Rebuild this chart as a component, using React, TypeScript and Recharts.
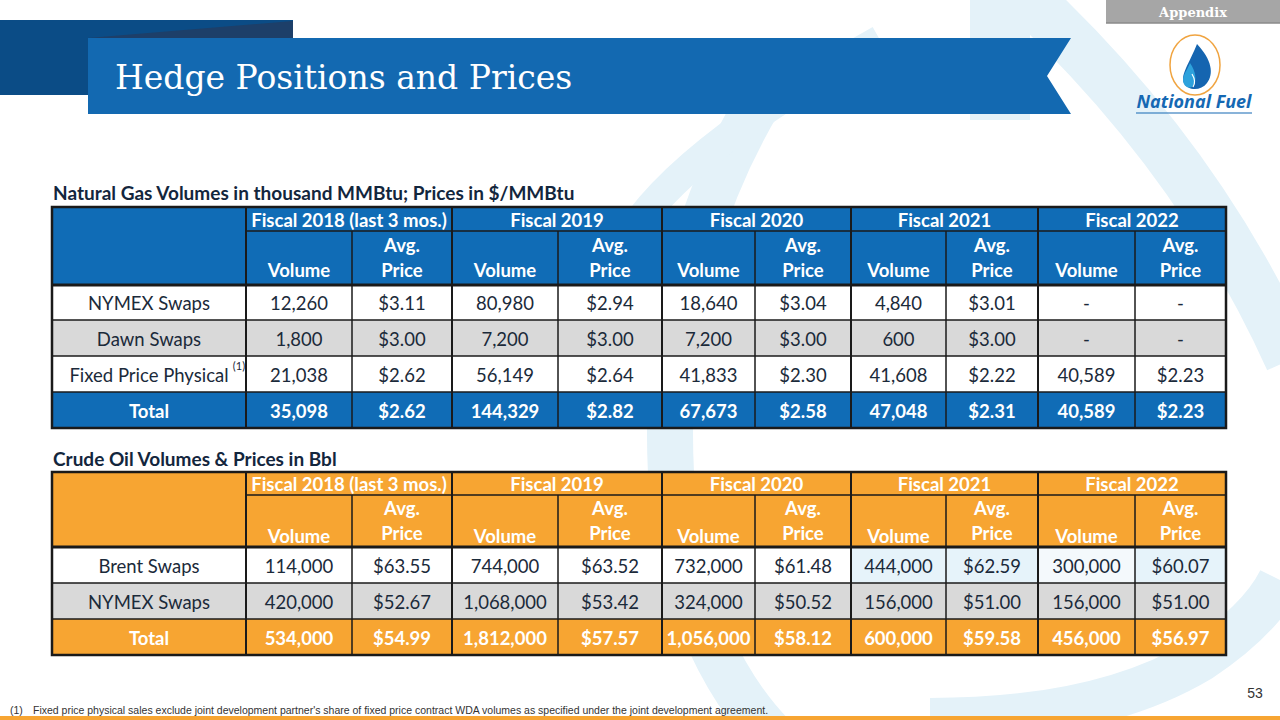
import React from 'react';
import { Surface, Layer, Rectangle, Text, Polygon } from 'recharts';

// fiscal year groups (column headers)
const fiscalYears = [
    'Fiscal 2018 (last 3 mos.)',
    'Fiscal 2019',
    'Fiscal 2020',
    'Fiscal 2021',
    'Fiscal 2022',
];

// natural gas – thousand MMBtu / $ per MMBtu
const gasLabels = ['NYMEX Swaps', 'Dawn Swaps', 'Fixed Price Physical', 'Total'];
const gasNymexVolume = [12260, 80980, 18640, 4840, null];
const gasNymexPrice = [3.11, 2.94, 3.04, 3.01, null];
const gasDawnVolume = [1800, 7200, 7200, 600, null];
const gasDawnPrice = [3.0, 3.0, 3.0, 3.0, null];
const gasFixedVolume = [21038, 56149, 41833, 41608, 40589];
const gasFixedPrice = [2.62, 2.64, 2.3, 2.22, 2.23];
const gasTotalVolume = [35098, 144329, 67673, 47048, 40589];
const gasTotalPrice = [2.62, 2.82, 2.58, 2.31, 2.23];

// crude oil – Bbl / $ per Bbl
const oilLabels = ['Brent Swaps', 'NYMEX Swaps', 'Total'];
const oilBrentVolume = [114000, 744000, 732000, 444000, 300000];
const oilBrentPrice = [63.55, 63.52, 61.48, 62.59, 60.07];
const oilNymexVolume = [420000, 1068000, 324000, 156000, 156000];
const oilNymexPrice = [52.67, 53.42, 50.52, 51.0, 51.0];
const oilTotalVolume = [534000, 1812000, 1056000, 600000, 456000];
const oilTotalPrice = [54.99, 57.57, 58.12, 59.58, 56.97];

const footnote =
    "Fixed price physical sales exclude joint development partner's share of fixed price contract WDA volumes as specified under the joint development agreement.";

// layout
const colX = [52, 246, 352, 452, 558, 662, 755, 851, 946, 1038, 1135, 1226];
const gasRowY = [207, 231, 285, 320, 356, 392, 428];
const oilRowY = [472, 495, 547, 583, 619, 655];

const BLUE = '#106cb6';
const ORANGE = '#f7a532';
const GRAY = '#d9d9d9';
const INK = '#1b2a3a';
const LINE = '#1a1a1a';
const FONT = 'Lato, "Open Sans", sans-serif';
const HEAD_SIZE = 18.5;
const BODY_SIZE = 18.5;

const fmtVol = (v: number | null) => (v == null ? '-' : v.toLocaleString('en-US'));
const fmtPrice = (v: number | null) => (v == null ? '-' : '$' + v.toFixed(2));

type Row = { label: string; vols: (number | null)[]; prices: (number | null)[]; fills: string[]; total?: boolean };

function DataTable({
    rowY,
    headFill,
    rows,
    oil,
}: {
    rowY: number[];
    headFill: string;
    rows: Row[];
    oil?: boolean;
}) {
    const left = colX[0];
    const right = colX[colX.length - 1];
    const top = rowY[0];
    const bottom = rowY[rowY.length - 1];
    const headBottom = rowY[2];
    const h2Mid = (rowY[1] + rowY[2]) / 2;

    return (
        <Layer>
            <Rectangle x={left} y={top} width={right - left} height={headBottom - top} fill={headFill} />
            {rows.map((r, ri) =>
                r.fills.map((f, ci) => (
                    <Rectangle
                        key={`f${ri}-${ci}`}
                        x={colX[ci]}
                        y={rowY[ri + 2]}
                        width={colX[ci + 1] - colX[ci]}
                        height={rowY[ri + 3] - rowY[ri + 2]}
                        fill={f}
                    />
                )),
            )}

            {/* header texts */}
            {fiscalYears.map((fy, i) => (
                <Text
                    key={fy}
                    x={(colX[1 + i * 2] + colX[3 + i * 2]) / 2}
                    y={(rowY[0] + rowY[1]) / 2 + 1}
                    textAnchor="middle"
                    verticalAnchor="middle"
                    fill="#fff"
                    fontFamily={FONT}
                    fontWeight={700}
                    fontSize={HEAD_SIZE}
                >
                    {fy}
                </Text>
            ))}
            {fiscalYears.map((fy, i) => (
                <Layer key={`h2${fy}`}>
                    <Text
                        x={(colX[1 + i * 2] + colX[2 + i * 2]) / 2}
                        y={h2Mid + (oil ? 15 : 12)}
                        textAnchor="middle"
                        verticalAnchor="middle"
                        fill="#fff"
                        fontFamily={FONT}
                        fontWeight={700}
                        fontSize={HEAD_SIZE}
                    >
                        Volume
                    </Text>
                    <Text
                        x={(colX[2 + i * 2] + colX[3 + i * 2]) / 2}
                        y={h2Mid - 13}
                        textAnchor="middle"
                        verticalAnchor="middle"
                        fill="#fff"
                        fontFamily={FONT}
                        fontWeight={700}
                        fontSize={HEAD_SIZE}
                    >
                        Avg.
                    </Text>
                    <Text
                        x={(colX[2 + i * 2] + colX[3 + i * 2]) / 2}
                        y={h2Mid + 12}
                        textAnchor="middle"
                        verticalAnchor="middle"
                        fill="#fff"
                        fontFamily={FONT}
                        fontWeight={700}
                        fontSize={HEAD_SIZE}
                    >
                        Price
                    </Text>
                </Layer>
            ))}

            {/* body texts */}
            {rows.map((r, ri) => {
                const cy = (rowY[ri + 2] + rowY[ri + 3]) / 2 + 1;
                const color = r.total ? '#fff' : INK;
                const weight = r.total ? 700 : 400;
                return (
                    <Layer key={`r${ri}`}>
                        <Text
                            x={(colX[0] + colX[1]) / 2}
                            y={cy}
                            textAnchor="middle"
                            verticalAnchor="middle"
                            fill={color}
                            fontFamily={FONT}
                            fontWeight={weight}
                            fontSize={BODY_SIZE}
                        >
                            {r.label}
                        </Text>
                        {r.label === 'Fixed Price Physical' && (
                            <Text
                                x={239}
                                y={cy - 9}
                                textAnchor="middle"
                                verticalAnchor="middle"
                                fill={INK}
                                fontFamily={FONT}
                                fontSize={11}
                            >
                                (1)
                            </Text>
                        )}
                        {r.vols.map((v, i) => (
                            <Text
                                key={`v${i}`}
                                x={(colX[1 + i * 2] + colX[2 + i * 2]) / 2}
                                y={cy}
                                textAnchor="middle"
                                verticalAnchor="middle"
                                fill={color}
                                fontFamily={FONT}
                                fontWeight={weight}
                                fontSize={BODY_SIZE}
                            >
                                {fmtVol(v)}
                            </Text>
                        ))}
                        {r.prices.map((p, i) => (
                            <Text
                                key={`p${i}`}
                                x={(colX[2 + i * 2] + colX[3 + i * 2]) / 2}
                                y={cy}
                                textAnchor="middle"
                                verticalAnchor="middle"
                                fill={color}
                                fontFamily={FONT}
                                fontWeight={weight}
                                fontSize={BODY_SIZE}
                            >
                                {fmtPrice(p)}
                            </Text>
                        ))}
                    </Layer>
                );
            })}

            {/* grid lines */}
            <line x1={colX[1]} x2={right} y1={rowY[1]} y2={rowY[1]} stroke={LINE} strokeWidth={1.5} />
            {rowY.slice(3, -1).map((y) => (
                <line key={`h${y}`} x1={left} x2={right} y1={y} y2={y} stroke={LINE} strokeWidth={1.5} />
            ))}
            <line x1={left} x2={right} y1={headBottom} y2={headBottom} stroke={LINE} strokeWidth={3} />
            {colX.slice(1, -1).map((x, i) => (
                <line
                    key={`v${x}`}
                    x1={x}
                    x2={x}
                    y1={i % 2 === 0 ? top : rowY[1]}
                    y2={bottom}
                    stroke={LINE}
                    strokeWidth={i % 2 === 0 ? 2 : 1.5}
                />
            ))}
            <rect x={left} y={top} width={right - left} height={bottom - top} fill="none" stroke={LINE} strokeWidth={2.5} />
        </Layer>
    );
}

export default function App() {
    const W5 = ['#fff', '#fff', '#fff', '#fff', '#fff', '#fff', '#fff', '#fff', '#fff', '#fff', '#fff'];
    const G5 = W5.map(() => GRAY);
    const gasRows: Row[] = [
        { label: gasLabels[0], vols: gasNymexVolume, prices: gasNymexPrice, fills: W5 },
        { label: gasLabels[1], vols: gasDawnVolume, prices: gasDawnPrice, fills: G5 },
        { label: gasLabels[2], vols: gasFixedVolume, prices: gasFixedPrice, fills: W5 },
        { label: gasLabels[3], vols: gasTotalVolume, prices: gasTotalPrice, fills: W5.map(() => BLUE), total: true },
    ];
    const oilRows: Row[] = [
        {
            label: oilLabels[0],
            vols: oilBrentVolume,
            prices: oilBrentPrice,
            fills: ['#fff', '#fff', '#fff', '#fff', '#fff', '#fff', '#fff', '#e6f3fa', '#e6f3fa', '#f4f9fc', '#e6f3fa'],
        },
        { label: oilLabels[1], vols: oilNymexVolume, prices: oilNymexPrice, fills: G5 },
        { label: oilLabels[2], vols: oilTotalVolume, prices: oilTotalPrice, fills: W5.map(() => ORANGE), total: true },
    ];

    return (
        <div style={{ position: 'absolute', left: 0, top: 0, width: 1280, height: 720, background: '#fff' }}>
            <Surface width={1280} height={720}>
                {/* faint watermark */}
                <g fill="none" stroke="#e4f2f9">
                    <path d="M 760 100 Q 640 300 680 560 Q 720 700 800 760" strokeWidth={46} />
                    <path d="M 1000 0 L 1000 120" strokeWidth={60} />
                    <path d="M 1030 0 Q 1200 160 1290 360" strokeWidth={50} />
                    <path d="M 930 720 Q 1100 720 1200 660 Q 1260 620 1280 580" strokeWidth={44} />
                    <path d="M 880 40 Q 700 140 640 220" strokeWidth={30} />
                </g>

                {/* header banner */}
                <Rectangle x={0} y={20} width={293} height={75} fill="#0b4c86" />
                <Polygon points={[{ x: 88, y: 38 }, { x: 293, y: 21 }, { x: 293, y: 38 }]} fill="#1d3f69" />
                <Polygon
                    points={[
                        { x: 88, y: 38 },
                        { x: 1071, y: 38 },
                        { x: 1047, y: 76 },
                        { x: 1071, y: 114 },
                        { x: 88, y: 114 },
                    ]}
                    fill="#1369b1"
                />
                <Text x={115} y={77} verticalAnchor="middle" fill="#fff" fontFamily='"DejaVu Serif", serif' fontSize={33}>
                    Hedge Positions and Prices
                </Text>

                {/* appendix tab */}
                <Rectangle x={1106} y={0} width={174} height={23} fill="#a6a6a6" />
                <line x1={1106} x2={1280} y1={23} y2={23} stroke="#8a8a8a" strokeWidth={1.5} />
                <Text
                    x={1193}
                    y={12}
                    textAnchor="middle"
                    verticalAnchor="middle"
                    fill="#fff"
                    fontFamily='"DejaVu Serif", serif'
                    fontWeight={700}
                    fontSize={13}
                >
                    Appendix
                </Text>

                {/* logo */}
                <ellipse cx={1195} cy={65} rx={25} ry={30} fill="#fff" stroke="#f0a440" strokeWidth={1.5} />
                <path d="M 1197 44 C 1212 60 1214 74 1207 83 C 1201 91 1188 91 1184 83 C 1180 75 1190 62 1197 44 Z" fill="#1565b0" />
                <path d="M 1190 63 C 1196 72 1197 80 1193 86 C 1189 90 1183 86 1183 80 C 1183 75 1187 70 1190 63 Z" fill="#2ea2dc" />
                <path d="M 1192 74 C 1195 79 1195 84 1193 87" stroke="#fff" strokeWidth={1.2} fill="none" />
                <Text
                    x={1194}
                    y={102}
                    textAnchor="middle"
                    verticalAnchor="middle"
                    fill="#1568b3"
                    fontFamily='"Open Sans", sans-serif'
                    fontWeight={700}
                    fontStyle="italic"
                    fontSize={18}
                >
                    National Fuel
                </Text>
                <line x1={1136} x2={1252} y1={113} y2={113} stroke="#1568b3" strokeWidth={1.2} />

                {/* section titles */}
                <Text x={53} y={193} verticalAnchor="middle" fill="#13263d" fontFamily={FONT} fontWeight={700} fontSize={19}>
                    Natural Gas Volumes in thousand MMBtu; Prices in $/MMBtu
                </Text>
                <DataTable rowY={gasRowY} headFill={BLUE} rows={gasRows} />

                <Text x={53} y={459} verticalAnchor="middle" fill="#13263d" fontFamily={FONT} fontWeight={700} fontSize={19}>
                    Crude Oil Volumes &amp; Prices in Bbl
                </Text>
                <DataTable rowY={oilRowY} headFill={ORANGE} rows={oilRows} oil />

                {/* footnote & page number */}
                <Text x={10} y={710} verticalAnchor="middle" fill="#333" fontFamily='"Liberation Sans", Arial, sans-serif' fontSize={10.5}>
                    (1)
                </Text>
                <Text x={33} y={710} verticalAnchor="middle" fill="#333" fontFamily='"Liberation Sans", Arial, sans-serif' fontSize={10.5}>
                    {footnote}
                </Text>
                <Text x={1255} y={693} textAnchor="middle" verticalAnchor="middle" fill="#333" fontFamily='"Liberation Sans", Arial, sans-serif' fontSize={14}>
                    53
                </Text>
                <Rectangle x={0} y={716} width={1280} height={4} fill="#f7a532" />
            </Surface>
        </div>
    );
}
